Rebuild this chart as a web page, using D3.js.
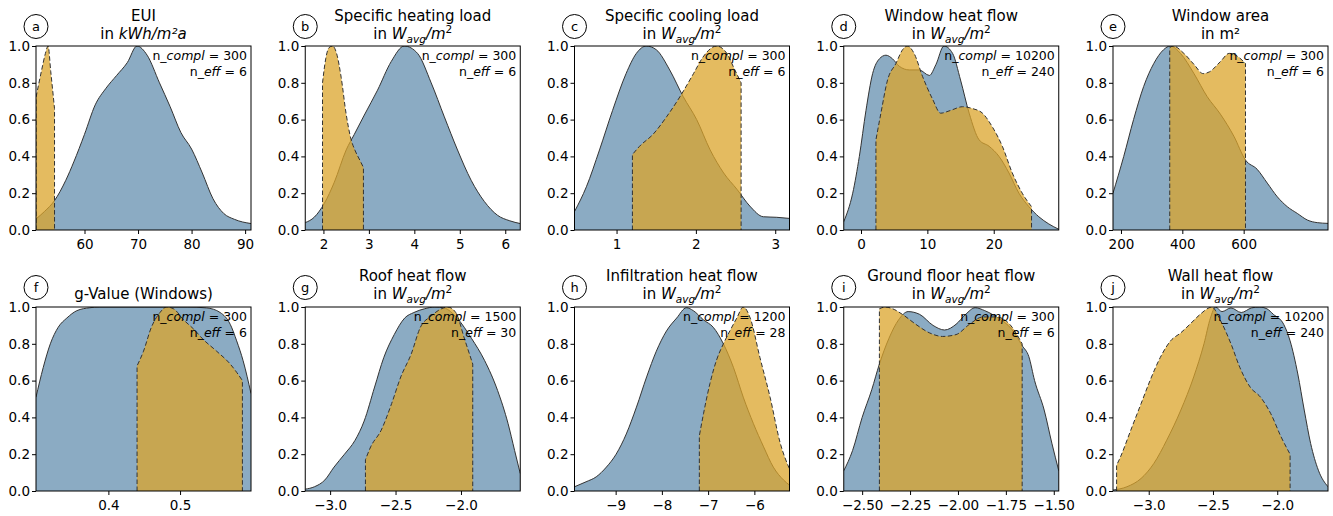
<!DOCTYPE html>
<html>
<head>
<meta charset="utf-8">
<script src="https://d3js.org/d3.v7.min.js"></script>
<style>
  body { margin: 0; background: #fff; }
  text { font-family: "DejaVu Sans", sans-serif; fill: #000; }
</style>
</head>
<body>
<div id="vis"></div>
<script>

// ---- values ----
var letters = ["a", "b", "c", "d", "e", "f", "g", "h", "i", "j"];
var titles = ["EUI", "Specific heating load", "Specific cooling load", "Window heat flow", "Window area",
    "g-Value (Windows)", "Roof heat flow", "Infiltration heat flow", "Ground floor heat flow", "Wall heat flow"];
// unit line below the title: "W" = W_avg/m^2, "eui" = kWh/m²a, "m2" = m², "" = none
var units = ["eui", "W", "W", "W", "m2", "", "W", "W", "W", "W"];
var nCompl = [300, 300, 300, 10200, 300, 300, 1500, 1200, 300, 10200];
var nEff = [6, 6, 6, 240, 6, 6, 30, 28, 6, 240];

var xLimits = [[50.94, 91.1], [1.6, 6.33], [0.47, 3.18], [-2.6, 29.8], [174, 875],
    [0.299, 0.599], [-3.19, -1.547], [-9.89, -5.24], [-2.596, -1.474], [-3.278, -1.605]];
var xTicks = [[60, 70, 80, 90], [2, 3, 4, 5, 6], [1, 2, 3], [0, 10, 20], [200, 400, 600],
    [0.4, 0.5], [-3.0, -2.5, -2.0], [-9, -8, -7, -6], [-2.5, -2.25, -2.0, -1.75, -1.5], [-3.0, -2.5, -2.0]];
var xTickFormats = ["d", "d", "d", "d", "d", ".1f", ".1f", "d", ".2f", ".1f"];
var yTicks = [0, 0.2, 0.4, 0.6, 0.8, 1.0];

// a) EUI
var euiAllX = [50.94, 52.5, 54.4, 56.5, 58, 60, 62, 64, 66, 68, 69.8, 71.7, 74, 76, 78, 80, 82, 84, 86, 88, 91.1];
var euiAllY = [0.06, 0.1, 0.16, 0.27, 0.37, 0.52, 0.68, 0.77, 0.84, 0.91, 1.0, 0.95, 0.8, 0.67, 0.53, 0.44, 0.31, 0.17, 0.09, 0.058, 0.035];
var euiEffX = [50.94, 52, 52.7, 53.2, 53.7, 54.4];
var euiEffY = [0.72, 0.87, 0.96, 1.0, 0.86, 0.66];

// b) heating load
var heatAllX = [1.6, 1.8, 2.02, 2.24, 2.5, 2.68, 2.9, 3.19, 3.49, 3.78, 4.07, 4.37, 4.66, 4.95, 5.25, 5.54, 5.83, 6.1, 6.33];
var heatAllY = [0.04, 0.07, 0.145, 0.26, 0.435, 0.52, 0.625, 0.76, 0.915, 1.0, 0.96, 0.8, 0.615, 0.435, 0.27, 0.155, 0.08, 0.05, 0.035];
var heatEffX = [1.98, 2.05, 2.12, 2.2, 2.3, 2.39, 2.5, 2.6, 2.7, 2.8, 2.88];
var heatEffY = [0.8, 0.93, 0.99, 1.0, 0.95, 0.83, 0.63, 0.5, 0.43, 0.38, 0.34];

// c) cooling load
var coolAllX = [0.47, 0.62, 0.785, 0.95, 1.12, 1.25, 1.375, 1.5, 1.67, 1.84, 2.01, 2.18, 2.35, 2.52, 2.68, 2.85, 3.02, 3.18];
var coolAllY = [0.1, 0.235, 0.435, 0.65, 0.85, 0.96, 1.0, 0.98, 0.87, 0.725, 0.6, 0.435, 0.31, 0.22, 0.13, 0.072, 0.069, 0.063];
var coolEffX = [1.2, 1.29, 1.46, 1.63, 1.8, 1.97, 2.09, 2.26, 2.39, 2.48, 2.57];
var coolEffY = [0.41, 0.455, 0.52, 0.615, 0.725, 0.85, 0.94, 1.0, 0.96, 0.88, 0.8];

// d) window heat flow
var winAllX = [-2.6, -1.25, -0.25, 0.75, 1.75, 2.76, 3.76, 4.76, 5.76, 7.27, 8.77, 10.3, 11.3, 12.5, 13.8, 15.0, 16.3, 17.8, 19.3, 20.8, 22.3, 23.8, 25.3, 26.8, 28.3, 29.8];
var winAllY = [0.045, 0.2, 0.4, 0.65, 0.85, 0.93, 0.95, 0.93, 0.89, 0.87, 0.87, 0.84, 0.9, 1.0, 0.96, 0.815, 0.635, 0.49, 0.455, 0.4, 0.31, 0.2, 0.127, 0.072, 0.033, 0.004];
var winEffX = [2.25, 3.0, 4.0, 5.26, 6.27, 7.0, 8.0, 9.27, 10.8, 12.0, 13.5, 15.3, 16.8, 18.3, 19.8, 21.3, 22.8, 24.3, 25.7];
var winEffY = [0.49, 0.635, 0.815, 0.905, 0.98, 1.0, 0.96, 0.835, 0.71, 0.635, 0.65, 0.67, 0.66, 0.635, 0.56, 0.455, 0.31, 0.2, 0.127];

// e) window area
var areaAllX = [174, 209, 241, 274, 307, 339, 361, 394, 438, 481, 524, 568, 606, 644, 677, 710, 742, 775, 808, 840, 875];
var areaAllY = [0.2, 0.4, 0.6, 0.78, 0.905, 0.98, 1.0, 0.96, 0.85, 0.725, 0.63, 0.51, 0.38, 0.33, 0.255, 0.18, 0.127, 0.09, 0.054, 0.04, 0.036];
var areaEffX = [359, 370, 405, 438, 468, 489, 524, 553, 574, 606];
var areaEffY = [0.99, 1.0, 0.96, 0.9, 0.85, 0.86, 0.915, 0.96, 0.95, 0.905];

// f) g-value
var gvalAllX = [0.299, 0.309, 0.319, 0.33, 0.342, 0.356, 0.374, 0.388, 0.45, 0.51, 0.537, 0.556, 0.57, 0.579, 0.588, 0.599];
var gvalAllY = [0.51, 0.67, 0.8, 0.89, 0.94, 0.98, 0.996, 1.0, 1.0, 1.0, 0.995, 0.97, 0.906, 0.816, 0.708, 0.53];
var gvalEffX = [0.44, 0.449, 0.46, 0.472, 0.481, 0.491, 0.505, 0.519, 0.532, 0.551, 0.57, 0.579, 0.587];
var gvalEffY = [0.68, 0.76, 0.89, 0.97, 1.0, 0.99, 0.93, 0.88, 0.825, 0.76, 0.69, 0.645, 0.6];

// g) roof heat flow
var roofAllX = [-3.19, -3.12, -3.04, -2.97, -2.89, -2.81, -2.74, -2.66, -2.59, -2.51, -2.43, -2.36, -2.28, -2.2, -2.13, -2.03, -1.92, -1.82, -1.72, -1.64, -1.59, -1.547];
var roofAllY = [0.01, 0.023, 0.06, 0.13, 0.2, 0.275, 0.38, 0.565, 0.725, 0.85, 0.94, 0.97, 0.99, 1.0, 0.995, 0.94, 0.83, 0.71, 0.546, 0.366, 0.22, 0.095];
var roofEffX = [-2.73, -2.69, -2.61, -2.53, -2.46, -2.38, -2.31, -2.23, -2.15, -2.1, -2.04, -1.97, -1.91];
var roofEffY = [0.17, 0.24, 0.33, 0.475, 0.62, 0.745, 0.89, 0.95, 0.99, 1.0, 0.97, 0.82, 0.69];

// h) infiltration heat flow
var infAllX = [-9.89, -9.64, -9.42, -9.2, -8.99, -8.77, -8.55, -8.33, -8.12, -7.9, -7.68, -7.47, -7.32, -7.1, -6.89, -6.67, -6.45, -6.24, -6.02, -5.8, -5.59, -5.37, -5.24];
var infAllY = [0.023, 0.05, 0.077, 0.13, 0.2, 0.31, 0.456, 0.62, 0.76, 0.87, 0.94, 0.996, 0.98, 0.93, 0.89, 0.8, 0.67, 0.51, 0.366, 0.24, 0.13, 0.06, 0.032];
var infEffX = [-7.19, -7.1, -6.96, -6.82, -6.67, -6.53, -6.38, -6.24, -6.09, -5.88, -5.66, -5.44, -5.24];
var infEffY = [0.3, 0.42, 0.585, 0.71, 0.8, 0.87, 0.94, 1.0, 0.94, 0.726, 0.51, 0.26, 0.12];

// i) ground floor heat flow
var floorAllX = [-2.596, -2.55, -2.5, -2.45, -2.41, -2.36, -2.31, -2.26, -2.2, -2.13, -2.07, -2.01, -1.96, -1.91, -1.86, -1.79, -1.72, -1.665, -1.63, -1.6, -1.55, -1.51, -1.474];
var floorAllY = [0.11, 0.22, 0.4, 0.55, 0.69, 0.83, 0.93, 0.975, 0.96, 0.9, 0.875, 0.906, 0.96, 0.996, 0.98, 0.94, 0.88, 0.79, 0.73, 0.6, 0.44, 0.26, 0.11];
var floorEffX = [-2.41, -2.38, -2.34, -2.29, -2.22, -2.15, -2.08, -2.01, -1.94, -1.87, -1.8, -1.73, -1.665];
var floorEffY = [0.99, 1.0, 0.99, 0.96, 0.906, 0.86, 0.84, 0.85, 0.906, 0.946, 0.946, 0.906, 0.8];

// j) wall heat flow
var wallAllX = [-3.278, -3.17, -3.06, -2.96, -2.86, -2.75, -2.65, -2.57, -2.52, -2.48, -2.43, -2.36, -2.28, -2.2, -2.14, -2.08, -2.03, -1.95, -1.9, -1.84, -1.79, -1.74, -1.68, -1.605];
var wallAllY = [0.005, 0.023, 0.068, 0.15, 0.276, 0.44, 0.62, 0.8, 0.94, 1.0, 0.975, 0.995, 0.97, 0.995, 1.0, 0.99, 0.96, 0.906, 0.816, 0.636, 0.44, 0.258, 0.113, 0.023];
var wallEffX = [-3.25, -3.22, -3.14, -3.06, -2.99, -2.91, -2.83, -2.75, -2.68, -2.6, -2.53, -2.51, -2.44, -2.36, -2.29, -2.21, -2.13, -2.05, -1.97, -1.9];
var wallEffY = [0.14, 0.185, 0.33, 0.474, 0.6, 0.726, 0.816, 0.86, 0.906, 0.96, 0.996, 1.0, 0.924, 0.8, 0.67, 0.564, 0.51, 0.42, 0.294, 0.2];

var allX = [euiAllX, heatAllX, coolAllX, winAllX, areaAllX, gvalAllX, roofAllX, infAllX, floorAllX, wallAllX];
var allY = [euiAllY, heatAllY, coolAllY, winAllY, areaAllY, gvalAllY, roofAllY, infAllY, floorAllY, wallAllY];
var effX = [euiEffX, heatEffX, coolEffX, winEffX, areaEffX, gvalEffX, roofEffX, infEffX, floorEffX, wallEffX];
var effY = [euiEffY, heatEffY, coolEffY, winEffY, areaEffY, gvalEffY, roofEffY, infEffY, floorEffY, wallEffY];

// ---- layout ----
var left0 = 36, colStep = 269.25, plotW = 215, plotH = 184;
var rowTops = [46, 307];

var svg = d3.select("#vis")
    .append("svg")
    .attr("width", 1333)
    .attr("height", 516);

// second title line with a bit of mathtext look
function unitLine(t, kind) {
    t.append("tspan").text("in ");
    if (kind == "W") {
        t.append("tspan").attr("font-style", "italic").text("W");
        t.append("tspan").attr("font-style", "italic").attr("font-size", 10.5).attr("dy", 3.5).text("avg");
        t.append("tspan").attr("font-style", "italic").attr("dy", -3.5).text("/m");
        t.append("tspan").attr("font-size", 10.5).attr("dy", -6).text("2");
    } else if (kind == "eui") {
        t.append("tspan").attr("font-style", "italic").text("kWh/m\u00b2a");
    } else {
        t.append("tspan").text("m\u00b2");
    }
}

function drawPanel(i) {
    var col = i % 5, row = Math.floor(i / 5);
    var px = left0 + col * colStep, py = rowTops[row];

    var g = svg.append("g").attr("transform", "translate(" + px + "," + py + ")");

    var x = d3.scaleLinear().domain(xLimits[i]).range([0, plotW]);
    var y = d3.scaleLinear().domain([0, 1]).range([plotH, 0]);

    g.append("clipPath").attr("id", "clip" + i)
        .append("rect").attr("width", plotW).attr("height", plotH);
    var plot = g.append("g").attr("clip-path", "url(#clip" + i + ")");

    var area = d3.area()
        .x(function (d) { return x(d[0]); })
        .y0(y(0))
        .y1(function (d) { return y(d[1]); })
        .curve(d3.curveMonotoneX);
    var line = d3.line()
        .x(function (d) { return x(d[0]); })
        .y(function (d) { return y(d[1]); })
        .curve(d3.curveMonotoneX);

    var allPts = d3.zip(allX[i], allY[i]);
    var effPts = d3.zip(effX[i], effY[i]);

    // complete sample
    plot.append("path").datum(allPts)
        .attr("d", area)
        .attr("fill", "#8babc3");
    plot.append("path").datum(allPts)
        .attr("d", line)
        .attr("fill", "none")
        .attr("stroke", "#333")
        .attr("stroke-width", 1);

    // effective sample
    plot.append("path").datum(effPts)
        .attr("d", area)
        .attr("fill", "#dba42b")
        .attr("fill-opacity", 0.75);
    var curvePath = line(effPts);
    var n = effPts.length - 1;
    plot.append("path")
        .attr("d", "M" + x(effPts[0][0]) + "," + y(0) + "L" + curvePath.slice(1) + "L" + x(effPts[n][0]) + "," + y(0))
        .attr("fill", "none")
        .attr("stroke", "#333")
        .attr("stroke-width", 1)
        .attr("stroke-dasharray", "4.5,2.5");

    // axes
    var xa = g.append("g")
        .attr("transform", "translate(0," + plotH + ")")
        .call(d3.axisBottom(x).tickValues(xTicks[i]).tickFormat(d3.format(xTickFormats[i]))
            .tickSize(4).tickPadding(5).tickSizeOuter(0));
    var ya = g.append("g")
        .call(d3.axisLeft(y).tickValues(yTicks).tickFormat(d3.format(".1f"))
            .tickSize(4).tickPadding(2).tickSizeOuter(0));
    [xa, ya].forEach(function (a) {
        a.select(".domain").remove();
        a.selectAll("text").attr("font-size", 13.5);
        a.selectAll("line").attr("stroke", "#000");
    });

    // frame
    g.append("rect")
        .attr("width", plotW).attr("height", plotH)
        .attr("fill", "none").attr("stroke", "#000").attr("stroke-width", 1);

    // n annotations
    var t1 = g.append("text").attr("x", plotW - 4).attr("y", 14)
        .attr("text-anchor", "end").attr("font-size", 12.5);
    t1.append("tspan").text("n_");
    t1.append("tspan").attr("font-style", "italic").text("compl");
    t1.append("tspan").text(" = " + nCompl[i]);
    var t2 = g.append("text").attr("x", plotW - 4).attr("y", 30)
        .attr("text-anchor", "end").attr("font-size", 12.5);
    t2.append("tspan").text("n_");
    t2.append("tspan").attr("font-style", "italic").text("eff");
    t2.append("tspan").text(" = " + nEff[i]);

    // titles
    var line1Y = row == 0 ? 21 : 281;
    var line2Y = row == 0 ? 39 : 299;
    if (units[i] == "") {
        svg.append("text").attr("x", px + plotW / 2).attr("y", line2Y)
            .attr("text-anchor", "middle").attr("font-size", 15).text(titles[i]);
    } else {
        svg.append("text").attr("x", px + plotW / 2).attr("y", line1Y)
            .attr("text-anchor", "middle").attr("font-size", 15).text(titles[i]);
        var t = svg.append("text").attr("x", px + plotW / 2).attr("y", line2Y)
            .attr("text-anchor", "middle").attr("font-size", 15);
        unitLine(t, units[i]);
    }

    // panel letter in a circle
    svg.append("circle")
        .attr("cx", px).attr("cy", py - 19.5).attr("r", 12)
        .attr("fill", "none").attr("stroke", "#000").attr("stroke-width", 1);
    svg.append("text")
        .attr("x", px).attr("y", py - 19.5)
        .attr("text-anchor", "middle").attr("dominant-baseline", "central")
        .attr("font-size", 13).text(letters[i]);
}

for (var k = 0; k < 10; k++) drawPanel(k);

</script>
</body>
</html>
